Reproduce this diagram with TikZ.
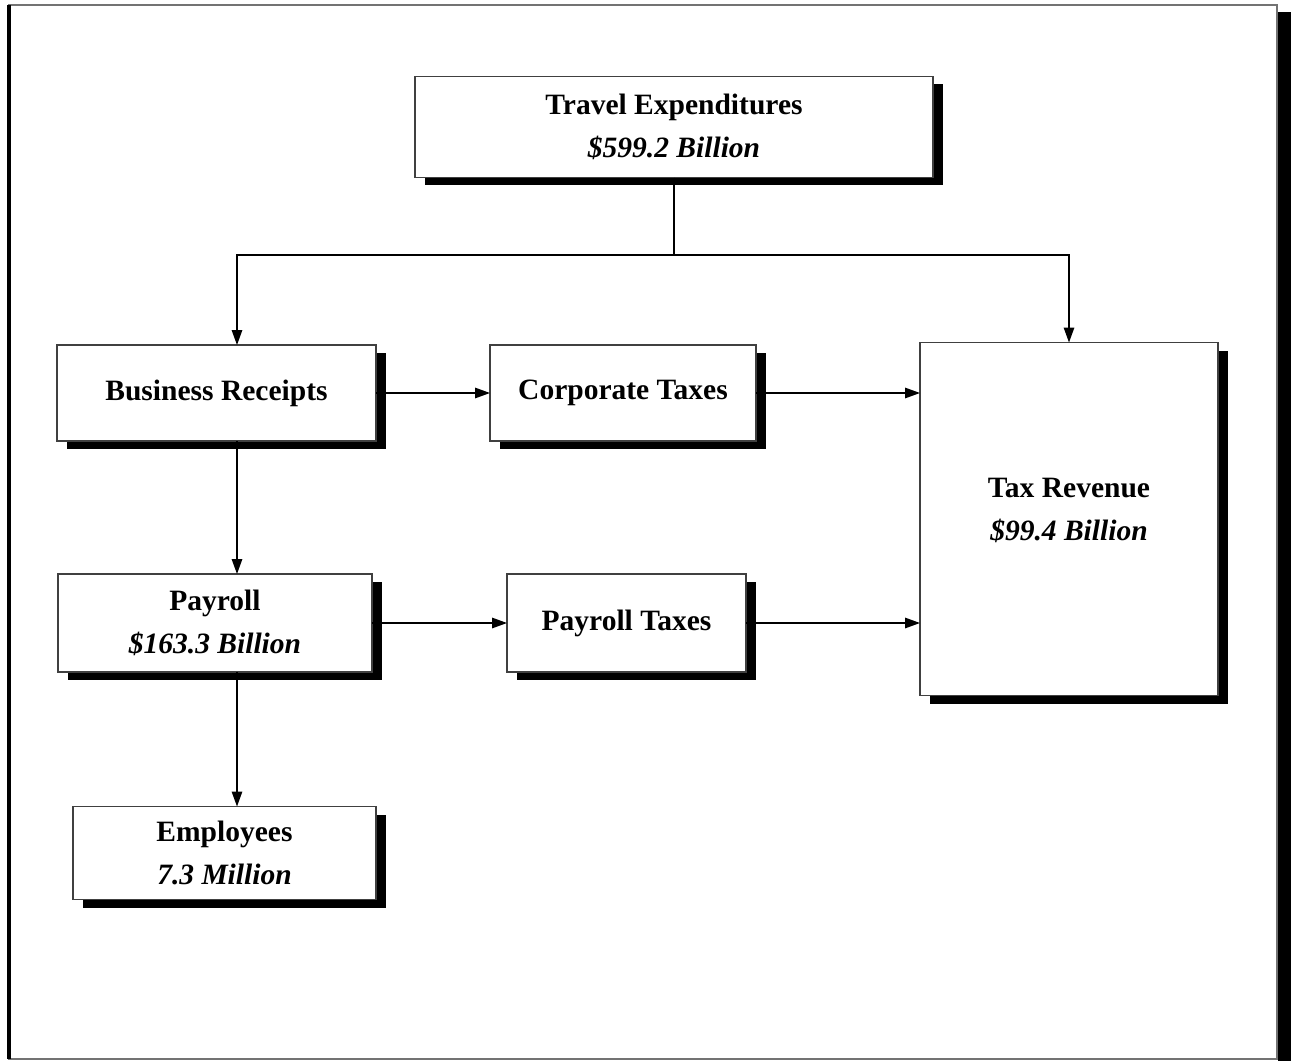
\documentclass[tikz,border=0pt]{standalone}
\usepackage{fontspec}
\setmainfont{Liberation Serif}
\usetikzlibrary{arrows.meta,shadows}

\tikzset{
  panel/.style={draw=black!75, line width=0.6pt, fill=white, inner sep=0pt, outer sep=0pt,
    align=center, font=\bfseries\fontsize{16.8}{24.5}\selectfont,
    drop shadow={shadow xshift=0.2cm, shadow yshift=-0.16cm, fill=black, opacity=1}},
  boxsize/.style 2 args={minimum width=#1*0.02cm, minimum height=#2*0.02cm},
  flow/.style={line width=0.8pt, -{Triangle[length=0.3cm, width=0.21cm]}}
}

\begin{document}
\begin{tikzpicture}[x=0.02cm, y=-0.02cm]
          \useasboundingbox (0,0) rectangle (1291,1061);

          % page frame
          \draw[black!55, line width=0.6pt] (9,5) rectangle (1277,1059);
          \fill (1277.5,12) rectangle (1291,1061);
          \draw[line width=2pt] (9,5) -- (9,1059);

          \node[panel, boxsize={518}{101}] (travel)   at (674,127)   {Travel Expenditures\\\textit{\$599.2 Billion}};
          \node[panel, boxsize={319}{96}]  (receipts) at (216.5,393) {Business Receipts};
          \node[panel, boxsize={266}{96}]  (corptax)  at (623,393)   {Corporate Taxes};
          \node[panel, boxsize={298}{353}] (revenue)  at (1069,519)  {Tax Revenue\\\textit{\$99.4 Billion}\\[-14pt]\mbox{}};
          \node[panel, boxsize={314}{98}]  (payroll)  at (215,623)   {Payroll\\\textit{\$163.3 Billion}};
          \node[panel, boxsize={239}{98}]  (paytax)   at (626.5,623) {Payroll Taxes};
          \node[panel, boxsize={303}{93}]  (staff)    at (224.5,853) {Employees\\\textit{7.3 Million}};

          \coordinate (bus) at (237,255);

          \draw[flow] (travel.south) |- (bus) -- (bus |- receipts.north);
          \draw[flow] (travel.south) |- (bus -| revenue.north) -- (revenue.north);
          \draw[flow] (receipts.east) -- (corptax.west);
          \draw[flow] (corptax.east) -- (corptax.east -| revenue.west);
          \draw[flow] (receipts.south -| bus) -- (payroll.north -| bus);
          \draw[flow] (payroll.east) -- (paytax.west);
          \draw[flow] (paytax.east) -- (paytax.east -| revenue.west);
          \draw[flow] (payroll.south -| bus) -- (staff.north -| bus);
        \end{tikzpicture}
\end{document}
